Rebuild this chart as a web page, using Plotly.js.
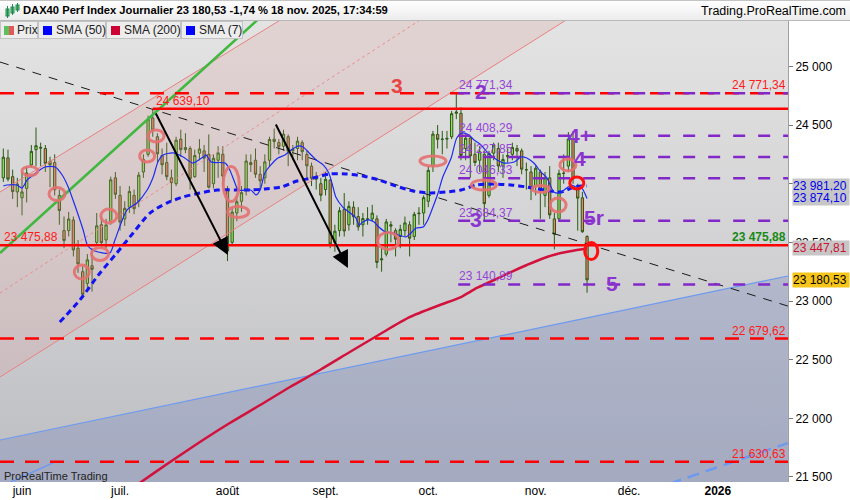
<!DOCTYPE html>
<html><head><meta charset="utf-8">
<script src="https://cdn.plot.ly/plotly-3.0.1.min.js"></script>
<style>
body{margin:0;background:#fff;font-family:"Liberation Sans",Arial,sans-serif;}
#wrap{position:relative;width:850px;height:500px;overflow:hidden;background:#fff;}
#bg{position:absolute;left:0;top:21px;width:788px;height:461px;background:linear-gradient(#e3e3e3,#d2d2d4 50%,#bcbdc2);}
#chart{position:absolute;left:0;top:0;width:850px;height:500px;}
#hdr{position:absolute;left:0;top:0;width:850px;height:21px;background:linear-gradient(#ffffff,#ececec);border-top:1px solid #c4c4c4;border-bottom:1px solid #b8b8b8;box-sizing:border-box;}
#ttl{position:absolute;left:23px;top:3px;font-weight:bold;font-size:11.2px;color:#000;white-space:nowrap;}
#site{position:absolute;right:4px;top:3px;font-size:12.5px;color:#000;white-space:nowrap;}
#ico{position:absolute;left:4px;top:2px;}
.lg{position:absolute;top:21px;height:18px;background:#ededed;border:1px solid #c3c3c3;box-sizing:border-box;font-size:12px;color:#222;line-height:16px;white-space:nowrap;overflow:visible;}
.sq{display:inline-block;width:9px;height:9px;margin:0 4px 0 4px;vertical-align:-1px;}
</style></head>
<body><div id="wrap">
<div id="bg"></div>
<div id="chart"></div>
<div id="hdr">
 <svg id="ico" width="16" height="16"><rect x="2" y="6" width="3" height="7" fill="#6c6" stroke="#285" stroke-width="1"/><line x1="3.5" y1="3" x2="3.5" y2="15" stroke="#285"/><rect x="7" y="4" width="3" height="6" fill="#6c6" stroke="#285"/><line x1="8.5" y1="1" x2="8.5" y2="12" stroke="#285"/><rect x="12" y="2" width="3" height="5" fill="#6c6" stroke="#285"/><line x1="13.5" y1="0" x2="13.5" y2="9" stroke="#285"/></svg>
 <div id="ttl"></div><div id="site">Trading.ProRealTime.com</div>
</div>
<div class="lg" style="left:0;width:38px"><span class="sq" style="width:5px;background:#5cc05c;margin-right:0;margin-left:3px"></span><span class="sq" style="width:5px;background:#e05858;margin-left:0;margin-right:3px"></span>Prix</div>
<div class="lg" style="left:38px;width:68px"><span class="sq" style="background:#0000ff"></span>SMA (50)</div>
<div class="lg" style="left:106px;width:75px"><span class="sq" style="background:#cc0033"></span>SMA (200)</div>
<div class="lg" style="left:181px;width:62px"><span class="sq" style="background:#0000ff"></span>SMA (7)</div>
</div>
<script>
// ---------- data ----------
const firstIdx = -4; // trading-day index of first candle (2 June 2025 = 0)
const opens = [24050,24220,24060,23930,
23880,23960,24160,24290,24310,24300,24190,24180,23900,23600,
23600,23690,23450,23250,23150,23300,23500,23650,23520,23680,
24050,23900,23700,23800,23900,23850,24100,24250,24560,24400,
24240,24180,24050,24000,24380,24290,24300,24060,24260,24280,
24250,24000,24200,24250,23950,23500,23750,23850,23950,24180,
24200,24080,24050,24200,24380,24350,24320,24400,24280,24300,
24350,24250,24150,24050,24000,23950,24030,23500,23600,23780,
23650,23800,23720,23650,23700,23700,23700,23350,23400,23650,
23600,23550,23600,23650,23550,23750,23750,23850,24150,24420,
24380,24380,24400,24600,24600,24300,24390,24250,24200,24250,
23900,24260,24300,24150,24230,24250,24300,24280,24120,24100,
23980,24100,23900,24050,23700,23700,24090,24150,24380,23950,
23880,23550];
const highs = [24300,24290,24120,24050,
24100,24145,24330,24479,24350,24330,24230,24250,23950,23720,
23760,23720,23520,23300,23400,23450,23750,23720,23700,24060,
24100,23980,23850,23980,23950,24100,24250,24580,24639,24430,
24300,24350,24120,24400,24460,24430,24320,24290,24380,24330,
24420,24250,24320,24320,23980,23800,23900,23980,24250,24250,
24300,24150,24250,24400,24470,24380,24460,24420,24330,24400,
24370,24280,24180,24100,24050,24100,24040,23650,23800,23920,
23850,23850,23800,23750,23800,23820,23730,23450,23700,23680,
23620,23650,23720,23680,23760,23800,23900,24150,24450,24500,
24450,24450,24620,24771,24650,24420,24400,24350,24320,24280,
24280,24350,24350,24250,24300,24350,24330,24300,24180,24150,
24150,24120,24100,24150,23750,24120,24250,24440,24450,24000,
23930,23560];
const lows = [24015,24020,23870,23800,
23730,23840,24140,24150,24150,24100,23970,23900,23650,23450,
23550,23380,23240,23030,23080,23080,23480,23450,23450,23650,
23870,23600,23640,23750,23740,23800,24050,24230,24400,24180,
24080,24030,23850,23980,24230,24260,23950,24050,24200,24100,
23960,23960,24050,23980,23340,23480,23680,23760,23900,24100,
24050,23950,24000,24150,24300,24250,24280,24150,24200,24200,
24200,24050,23980,23950,23850,23900,23450,23420,23550,23550,
23600,23650,23600,23550,23650,23680,23280,23250,23380,23500,
23380,23450,23550,23380,23520,23650,23650,23800,24100,24300,
24250,24300,24380,24550,24200,24200,24050,24150,24100,23690,
23880,24200,24100,24050,24180,24200,24150,24080,23950,23860,
23900,23700,23800,23700,23440,23680,24000,24100,24000,23600,
23580,23070];
const closes = [24226,24039,23933,23997,
23930,24091,24276,24324,24304,24174,24162,23949,23771,23516,
23699,23435,23317,23057,23351,23270,23641,23498,23649,24033,
23910,23673,23790,23934,23787,24073,24206,24550,24456,24255,
24161,24060,24009,24371,24290,24308,24042,24240,24296,24218,
23970,24217,24262,24065,23426,23758,23846,23924,24193,24163,
24081,24024,24186,24377,24359,24315,24423,24277,24293,24363,
24273,24152,24046,24039,23902,24037,23487,23595,23770,23597,
23807,23718,23632,23703,23698,23749,23329,23359,23674,23639,
23527,23611,23666,23535,23739,23745,23881,24114,24423,24378,
24378,24386,24597,24611,24241,24388,24237,24181,24272,23830,
24259,24330,24151,24207,24240,24309,24278,24124,24118,23958,
24132,23949,24050,23734,23569,24088,24088,24381,24041,23877,
23591.00,23180.53];

const monthTickIdx = [0,21,44,65,87,110,130,149];
const monthTickText = ['juin','juil.','août','sept.','oct.','nov.','déc.','<b>2026</b>'];
const priceTicks = [21500,22000,22500,23000,23500,24000,24500,25000];
const hiddenTick = 24000; // covered by the SMA boxes in the reference

const sma7X = [-4,-3.2,-1.1,0,1.1,2.4,4.9,7.1,8.6,9.9,11.3,13.1,14.1,15.6,18.8,19.9,22.5,24.6,26.8,28.1,29.1,30.2,32.3,34.5,36.6,38.8,39.4,40.5,43.5,44.5,45.6,46.3,49.0,50.1,51.0,52.0,53.3,54.8,56.3,57.6,59.1,60.2,61.5,63.0,64.5,65.7,66.6,67.2,68.7,70.0,71.5,72.2,73.0,74.1,75.4,76.4,77.9,79.4,82.2,83.3,84.4,85.9,86.9,88.0,89.1,90.1,91.9,93.1,94.2,95.7,96.8,98.3,99.6,101.1,103.2,105.4,106.9,108.1,109.6,111.1,112.4,113.9,115.0,116.1,117.6,118.6,119.7,121.0];
const sma7Y = [23980,23989,23989,23963,24032,24074,24142,24142,24074,23972,23818,23605,23469,23426,23409,23520,23776,23835,23946,24057,24185,24245,24262,24228,24176,24228,24245,24185,24176,24117,24006,23946,23946,23904,23946,24091,24160,24219,24245,24287,24321,24313,24262,24202,24160,24091,23972,23887,23801,23759,23708,23648,23673,23691,23673,23631,23588,23580,23546,23580,23622,23631,23691,23801,23921,24057,24219,24390,24432,24415,24373,24330,24270,24219,24176,24185,24228,24219,24176,24100,24049,23929,23921,23946,23989,23972,23972,23874.10];
const sma50X = [8.1,12.4,16.7,20.3,23.8,27.4,31.0,34.5,38.1,41.8,48.8,52.0,55.5,58.9,62.3,66.0,69.4,73.0,76.4,80.1,83.7,87.4,90.8,94.0,97.4,101.1,104.7,108.1,111.8,115.4,118.4,121.0];
const sma50Y = [22821,23009,23239,23409,23580,23750,23835,23887,23921,23946,23946,23955,23972,24023,24049,24083,24083,24066,24032,23980,23938,23921,23929,23946,23989,23997,23989,23972,23946,23929,23975,23981.20];
const sma200X = [22,25.5,31.7,38.1,44.5,51.0,57.4,63.8,70.2,76.7,83.1,89.5,94.0,97.4,101.1,104.7,108.1,111.8,115.4,118.8,121.0];
const sma200Y = [21360,21457,21628,21798,21960,22113,22267,22412,22565,22719,22864,22966,23034,23111,23179,23247,23307,23367,23409,23435,23447.81];

// drawn trend lines (index, price)
const chanUpperX = [-4.71,59.6], chanUpperY = [23929,25500];
const chanMidX = [-4.71,89.3], chanMidY = [23068,25500];
const chanLowerX = [-4.71,120.7], chanLowerY = [22352,25500];
const greenX = [-4.71,53.3], greenY = [23409,25500];
const blackX = [-4.71,164.0], blackY = [25037,22957];
const blueX = [-4.71,164.0], blueY = [21815,23213];
const blue2X = [-4.71,7.07], blue2Y = [21414,21628];
const blue3X = [131.0,164.0], blue3Y = [21338,21789];

// horizontal levels
const redDashLevels = [24771.34,22679.62,21630.63];
const redSolidLevels = [24639.10,23475.88];
const redSolidStart = [28,-4.71];
const purpleLevels = [24771.34,24408.29,24227.85,24046.33,23684.37,23140.89];
const purpleStart = 93.4;

// arrows: tail -> head
const arrowTailX = [28.5,54.2], arrowTailY = [24611,24517];
const arrowHeadX = [44.1,69.8], arrowHeadY = [23392,23281];

// wave labels
const waveText = ['3','2','4+','4','3','5r','5'];
const waveX = [80.3,98.3,119.5,119.5,97.2,122.5,126.3];
const waveY = [24841,24782,24415,24219,23699,23708,23153];
const waveColor = ['#e84444','#8b34cf','#8b34cf','#8b34cf','#8b34cf','#8b34cf','#8b34cf'];

// circles (centre index, price; size px)
const circX = [1.7,7.5,12.8,16.7,18.6,26.8,28.7,44.8,46.3,78.4,88.0,98.9,111.1,114.8,116.9,118.8,121.9];
const circY = [24108,23912,23247,23401,23725,24236,24407,23997,23759,23512,24193,23989,23955,23818,24160,24006,23426];
const circW = [16,16,15,17,16,15,16,16,21,21,26,25,17,16,16,14,13];
const circH = [9,13,14,13,14,12,12,35,11,17,10,10,7,14,12,12,17];
const circRed = [0,0,0,0,0,0,0,0,0,0,0,0,0,0,0,1,1];

// right axis boxes
const boxVals = [23981.20,23874.10,23447.81,23180.53];
const boxColor = ['#0000ee','#0000ee','#cc1133','#000000'];
const boxBg = ['#c6c6c6','#c6c6c6','#c6c6c6','#f7c51a'];

// ---------- helpers ----------
function fmt(v,d){ if(d===undefined) d=2; const s=Math.abs(v).toFixed(d).split('.'); const a=s[0].replace(/\B(?=(\d{3})+(?!\d))/g,' '); return (v<0?'-':'')+a+(s[1]?','+s[1]:''); }
const N = closes.length;
const idx = closes.map((_,k)=>firstIdx+k);
const last = closes[N-1], prev = closes[N-2];
document.getElementById('ttl').textContent = 'DAX40 Perf Index Journalier '+fmt(last)+' '+fmt((last/prev-1)*100)+' % 18 nov. 2025, 17:34:59';

const X0=-4.71, X1=164.03, Y0=21457, Y1=25387;
const F = '"Liberation Sans", Arial, sans-serif';
const ln = (x,y,color,width,dash,shape)=>({type:'scatter',mode:'lines',x:x,y:y,line:{color:color,width:width,dash:dash||'solid',shape:shape||'linear',smoothing:0.7},hoverinfo:'skip',showlegend:false});

const traces = [];
traces.push({type:'scatter',mode:'lines',x:[blueX[0],blueX[1],blueX[1],blueX[0]],y:[blueY[0],blueY[1],21000,21000],fill:'toself',fillcolor:'rgba(100,120,185,0.27)',line:{width:0},hoverinfo:'skip',showlegend:false});
traces.push({type:'scatter',mode:'lines',x:[chanUpperX[0],chanUpperX[1],chanLowerX[1],chanLowerX[0]],y:[chanUpperY[0],chanUpperY[1],chanLowerY[1],chanLowerY[0]],fill:'toself',fillcolor:'rgba(225,150,150,0.2)',line:{width:0},hoverinfo:'skip',showlegend:false});
traces.push(ln(chanUpperX,chanUpperY,'#e98080',1));
traces.push(ln(chanLowerX,chanLowerY,'#e98080',1));
traces.push(ln(chanMidX,chanMidY,'#eb8d8d',1,'3px,3px'));
traces.push(ln(blueX,blueY,'#6d9af0',1.2));
traces.push(ln(blue2X,blue2Y,'#6d9af0',1.5));
traces.push(ln(blue3X,blue3Y,'#6d9af0',2.5,'12px,7px'));
traces.push(ln(greenX,greenY,'#3fb83f',2.5));
traces.push({type:'candlestick',x:idx,open:opens,high:highs,low:lows,close:closes,
  increasing:{line:{color:'#2b5a12',width:1},fillcolor:'#92e062'},
  decreasing:{line:{color:'#2b5a12',width:1},fillcolor:'#e8806e'},
  whiskerwidth:0,hoverinfo:'skip',showlegend:false});
traces.push(ln(blackX,blackY,'#1a1a1a',1,'9px,8px'));
traces.push(ln(sma200X,sma200Y,'#d2123c',2.5,'solid','spline'));
traces.push(ln(sma50X,sma50Y,'#1414f2',3,'6px,4px','spline'));
traces.push(ln(sma7X,sma7Y,'#1c2cf2',1.2,'solid','spline'));

const shapes = [];
redDashLevels.forEach(v=>shapes.push({type:'line',xref:'x',yref:'y',x0:X0,x1:X1,y0:v,y1:v,line:{color:'#ff0000',width:2.5,dash:'14px,11px'}}));
purpleLevels.forEach(v=>shapes.push({type:'line',xref:'x',yref:'y',x0:purpleStart,x1:X1,y0:v,y1:v,line:{color:'#8228c8',width:2.5,dash:'12px,13px'}}));
redSolidLevels.forEach((v,k)=>shapes.push({type:'line',xref:'x',yref:'y',x0:redSolidStart[k],x1:X1,y0:v,y1:v,line:{color:'#ff0000',width:2.5}}));
circX.forEach((cx,k)=>shapes.push({type:'circle',xref:'x',yref:'y',xsizemode:'pixel',ysizemode:'pixel',xanchor:cx,yanchor:circY[k],
  x0:-circW[k]/2,x1:circW[k]/2,y0:-circH[k]/2,y1:circH[k]/2,
  line:{color:circRed[k]?'#ff1010':'rgba(228,112,112,0.9)',width:3}}));

const ann = [];
const lab = (x,xref,y,text,color,xanchor,size,bold)=>({x:x,xref:xref,y:y,yref:'y',text:bold?'<b>'+text+'</b>':text,showarrow:false,xanchor:xanchor,yanchor:'bottom',borderpad:0,yshift:0,font:{family:F,size:size||12,color:color}});
ann.push(lab(redSolidStart[0]+0.4,'x',redSolidLevels[0],fmt(redSolidLevels[0]),'#ff1a1a','left'));
ann.push(lab(0.004,'paper',redSolidLevels[1],fmt(redSolidLevels[1]),'#ff1a1a','left'));
ann.push(lab(0.999,'paper',redSolidLevels[1],fmt(redSolidLevels[1]),'#168a16','right',12,true));
redDashLevels.forEach(v=>ann.push(lab(0.999,'paper',v,fmt(v),'#ff1a1a','right')));
purpleLevels.forEach(v=>ann.push(lab(purpleStart,'x',v,fmt(v),'#9445d6','left')));
arrowHeadX.forEach((hx,k)=>ann.push({x:hx,y:arrowHeadY[k],xref:'x',yref:'y',ax:arrowTailX[k],ay:arrowTailY[k],axref:'x',ayref:'y',text:'',showarrow:true,arrowhead:2,arrowsize:1.7,arrowwidth:2,arrowcolor:'#000'}));
waveText.forEach((t,k)=>ann.push({x:waveX[k],y:waveY[k],xref:'x',yref:'y',text:'<b>'+t+'</b>',showarrow:false,xanchor:'center',yanchor:'middle',font:{family:F,size:21,color:waveColor[k]}}));
boxVals.forEach((v,k)=>ann.push({x:1.005,xref:'paper',y:v,yref:'y',text:fmt(v),showarrow:false,xanchor:'left',yanchor:'middle',align:'left',width:56,height:14,bgcolor:boxBg[k],borderpad:0,font:{family:F,size:12,color:boxColor[k]}}));
ann.push({x:0.003,xref:'paper',y:0.013,yref:'paper',text:'ProRealTime Trading',showarrow:false,xanchor:'left',yanchor:'middle',font:{family:F,size:11,color:'#222'}});

const layout = {
  width:850,height:500,margin:{l:0,r:62,t:21,b:18},
  paper_bgcolor:'rgba(0,0,0,0)',plot_bgcolor:'rgba(0,0,0,0)',
  showlegend:false,
  xaxis:{range:[X0,X1],showgrid:false,zeroline:false,showline:false,ticks:'',tickvals:monthTickIdx,ticktext:monthTickText,tickfont:{family:F,size:12,color:'#000'},rangeslider:{visible:false},fixedrange:true,automargin:false},
  yaxis:{range:[Y0,Y1],side:'right',showgrid:false,zeroline:false,showline:true,linecolor:'#a0a0a0',linewidth:1,ticks:'outside',ticklen:4,tickcolor:'#777',tickvals:priceTicks,ticktext:priceTicks.map(v=>v===hiddenTick?'':fmt(v,0)),tickfont:{family:F,size:12,color:'#000'},fixedrange:true,automargin:false},
  shapes:shapes,annotations:ann
};
Plotly.newPlot('chart',traces,layout,{displayModeBar:false,staticPlot:true});
</script>
</body></html>
